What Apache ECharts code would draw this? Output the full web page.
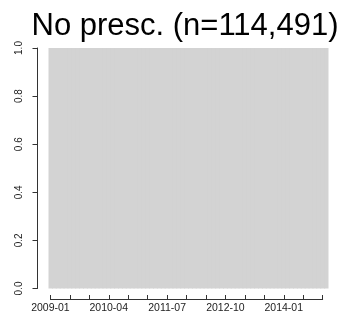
<!DOCTYPE html>
<html>
<head>
<meta charset="utf-8">
<script src="https://cdn.jsdelivr.net/npm/echarts@6/dist/echarts.min.js"></script>
<style>
  html, body { margin: 0; padding: 0; background: #fff; }
  #chart { width: 347px; height: 320px; }
</style>
</head>
<body>
<div id="chart"></div>
<script>
// Monthly periods, 2009-01 .. 2014-12
const months = [
  '2009-01','2009-02','2009-03','2009-04','2009-05','2009-06','2009-07','2009-08','2009-09','2009-10','2009-11','2009-12',
  '2010-01','2010-02','2010-03','2010-04','2010-05','2010-06','2010-07','2010-08','2010-09','2010-10','2010-11','2010-12',
  '2011-01','2011-02','2011-03','2011-04','2011-05','2011-06','2011-07','2011-08','2011-09','2011-10','2011-11','2011-12',
  '2012-01','2012-02','2012-03','2012-04','2012-05','2012-06','2012-07','2012-08','2012-09','2012-10','2012-11','2012-12',
  '2013-01','2013-02','2013-03','2013-04','2013-05','2013-06','2013-07','2013-08','2013-09','2013-10','2013-11','2013-12',
  '2014-01','2014-02','2014-03','2014-04','2014-05','2014-06','2014-07','2014-08','2014-09','2014-10','2014-11','2014-12'
];

// Share of patients with no prescription, per month
const noPrescShare = [
  1,1,1,1,1,1,1,1,1,1,1,1,
  1,1,1,1,1,1,1,1,1,1,1,1,
  1,1,1,1,1,1,1,1,1,1,1,1,
  1,1,1,1,1,1,1,1,1,1,1,1,
  1,1,1,1,1,1,1,1,1,1,1,1,
  1,1,1,1,1,1,1,1,1,1,1,1
];

// Months carrying an x tick (every fifth month)
const tickMonths = [
  '2009-01','2009-06','2009-11','2010-04','2010-09','2011-02','2011-07','2011-12',
  '2012-05','2012-10','2013-03','2013-08','2014-01','2014-06','2014-11'
];

// Labelled x ticks
const xTickLabels = ['2009-01', '2010-04', '2011-07', '2012-10', '2014-01'];

const titleText = 'No presc. (n=114,491)';

// Plot geometry
const plotLeft = 48.5, plotTop = 48, plotWidth = 280, plotHeight = 240.5;
const barW = plotWidth / months.length;
const firstTick = months.indexOf(tickMonths[0]);
const lastTick = months.indexOf(tickMonths[tickMonths.length - 1]);
const tickStep = months.indexOf(tickMonths[1]) - firstTick;
const axisColor = '#333';
const font = 'Liberation Sans, Arial, Helvetica, sans-serif';

const chart = echarts.init(document.getElementById('chart'), null, { renderer: 'canvas' });

chart.setOption({
  animation: false,
  backgroundColor: '#ffffff',
  title: {
    text: titleText,
    left: 180,
    top: 6,
    textAlign: 'center',
    textStyle: { fontFamily: font, fontSize: 31, fontWeight: 'normal', color: '#000' }
  },
  grid: [
    { left: plotLeft, top: plotTop, width: plotWidth, height: plotHeight },
    // detached x axis: a thin strip below the plot, spanning the first to the last tick month;
    // its vertical split lines act as the downward tick marks
    {
      left: plotLeft + barW * (firstTick + 0.5),
      top: 295,
      width: barW * (lastTick - firstTick),
      height: 4.5
    }
  ],
  xAxis: [
    {
      gridIndex: 0, type: 'category', data: months,
      axisLine: { show: false }, axisTick: { show: false }, axisLabel: { show: false },
      splitLine: { show: false }
    },
    {
      gridIndex: 1, type: 'value', min: firstTick, max: lastTick, interval: tickStep,
      position: 'top',
      axisLine: { show: true, lineStyle: { color: axisColor, width: 1 } },
      axisTick: { show: false },
      splitLine: { show: true, lineStyle: { color: axisColor, width: 1, type: 'solid' } },
      axisLabel: {
        inside: true, margin: 8, showMinLabel: true, showMaxLabel: true,
        fontFamily: font, fontSize: 10.5, color: '#222',
        formatter: v => (xTickLabels.indexOf(months[v]) >= 0 ? months[v] : '')
      }
    }
  ],
  yAxis: [
    {
      gridIndex: 0, type: 'value', min: 0, max: 1, interval: 0.2, offset: 11,
      axisLine: { show: true, lineStyle: { color: axisColor, width: 1 } },
      axisTick: { show: true, length: 5, lineStyle: { color: axisColor, width: 1 } },
      axisLabel: {
        rotate: 90, margin: 13,
        fontFamily: font, fontSize: 10, color: '#222',
        formatter: v => v.toFixed(1)
      },
      splitLine: { show: false }
    },
    { gridIndex: 1, type: 'value', show: false }
  ],
  series: [
    {
      type: 'bar',
      name: 'No presc.',
      xAxisIndex: 0, yAxisIndex: 0,
      data: noPrescShare,
      // slightly wider than the band so neighbouring bars overlap without seams
      barWidth: barW + 1,
      itemStyle: { color: '#d3d3d3' },
      emphasis: { disabled: true }
    }
  ]
});
</script>
</body>
</html>
